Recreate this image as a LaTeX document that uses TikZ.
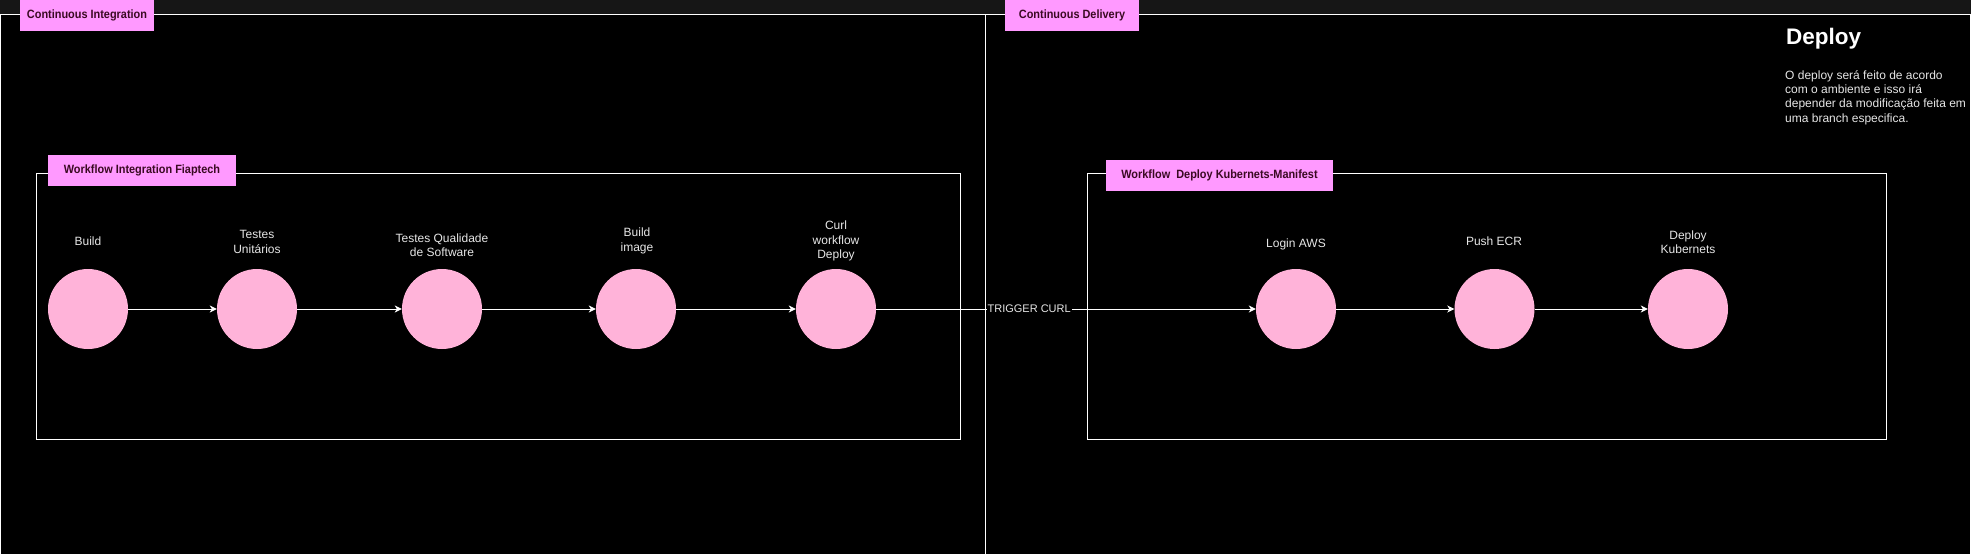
\documentclass[tikz,border=0pt]{standalone}
\usepackage{fontspec}
\setmainfont{Liberation Sans}
\usetikzlibrary{arrows.meta}
\definecolor{bgstrip}{HTML}{161616}
\definecolor{labelpink}{HTML}{FF99FF}
\definecolor{circpink}{HTML}{FFB3D9}
\definecolor{labeltext}{HTML}{3A0A22}
\definecolor{softwhite}{HTML}{E6E6E6}
\begin{document}
\begin{tikzpicture}[x=1pt,y=-1pt,
  frame/.style={draw=white, line width=1pt, fill=black},
  wfbox/.style={draw=white, line width=1pt, inner sep=0pt, anchor=north west},
  tag/.style={fill=labelpink, text=labeltext, minimum height=31pt, inner sep=0pt,
    font=\fontsize{12}{14}\selectfont\bfseries},
  stage/.style={circle, fill=circpink, minimum size=80pt, inner sep=0pt},
  stagelabel/.style={text=softwhite, align=center, inner sep=0pt,
    font=\fontsize{12}{14.5}\selectfont},
  flow/.style={draw=white, line width=1pt, -{Stealth[length=7pt,width=7pt,inset=2pt]}},
]
\useasboundingbox (0,0) rectangle (1971,554);
\begin{scope}
\clip (0,0) rectangle (1971,554);
\fill[bgstrip] (0,0) rectangle (1971,554);
\draw[frame] (0.5,14) rectangle (985,600);
\draw[frame] (985,14) rectangle (1970.5,600);
\end{scope}

% workflow boxes
\node[wfbox, minimum width=924pt, minimum height=266pt] (wfci) at (36,173) {};
\node[wfbox, minimum width=799pt, minimum height=266pt] (wfcd) at (1086.5,173) {};

% tags
\node[tag, minimum width=134pt] (tci) at (87,15.3) {\scalebox{0.91}[1]{Continuous Integration}};
\node[tag, minimum width=134pt] (tcd) at (1072,15.3) {\scalebox{0.91}[1]{Continuous Delivery}};
\node[tag, minimum width=188pt] (twi) at (142,170.3) {\scalebox{0.91}[1]{Workflow Integration Fiaptech}};
\node[tag, minimum width=227pt] (twd) at (1219.5,175.3) {\scalebox{0.91}[1]{Workflow~ Deploy Kubernets-Manifest}};

% stages
\node[stage] (s1) at (88,309) {};
\node[stage] (s2) at (257,309) {};
\node[stage] (s3) at (442,309) {};
\node[stage] (s4) at (636,309) {};
\node[stage] (s5) at (836,309) {};
\node[stage] (s6) at (1296,309) {};
\node[stage] (s7) at (1494.5,309) {};
\node[stage] (s8) at (1688,309) {};

% stage labels
\node[stagelabel] (l1) at (88,241) {Build};
\node[stagelabel] (l2) at (257,242) {Testes\\Unitários};
\node[stagelabel] (l3) at (442,245) {Testes Qualidade\\de Software};
\node[stagelabel] (l4) at (637,241) {Build\\image};
\node[stagelabel] (l5) at (836,241.3) {Curl\\workflow\\Deploy};
\node[stagelabel] (l6) at (1296,244.3) {Login AWS};
\node[stagelabel] (l7) at (1494,241.7) {Push ECR};
\node[stagelabel] (l8) at (1688,242) {Deploy\\Kubernets};

% connectors
\draw[flow] (s1) -- (s2);
\draw[flow] (s2) -- (s3);
\draw[flow] (s3) -- (s4);
\draw[flow] (s4) -- (s5);
\draw[flow] (s5) -- node[pos=0.403, fill=black, text=softwhite, inner sep=1pt,
  font=\fontsize{11}{13}\selectfont] (trig) {TRIGGER CURL} (s6);
\draw[flow] (s6) -- (s7);
\draw[flow] (s7) -- (s8);

% deploy note
\node[anchor=base west, inner sep=0pt, text=white, font=\fontsize{22.5}{27}\selectfont\bfseries] (dh) at (1786,44.3) {Deploy};
\node[anchor=north west, inner sep=0pt, align=left, text=softwhite,
  font=\fontsize{12}{14.2}\selectfont] (dp) at (1785,70.5)
  {O deploy será feito de acordo\\com o ambiente e isso irá\\depender da modificação feita em\\uma branch especifica.};
\end{tikzpicture}
\end{document}
